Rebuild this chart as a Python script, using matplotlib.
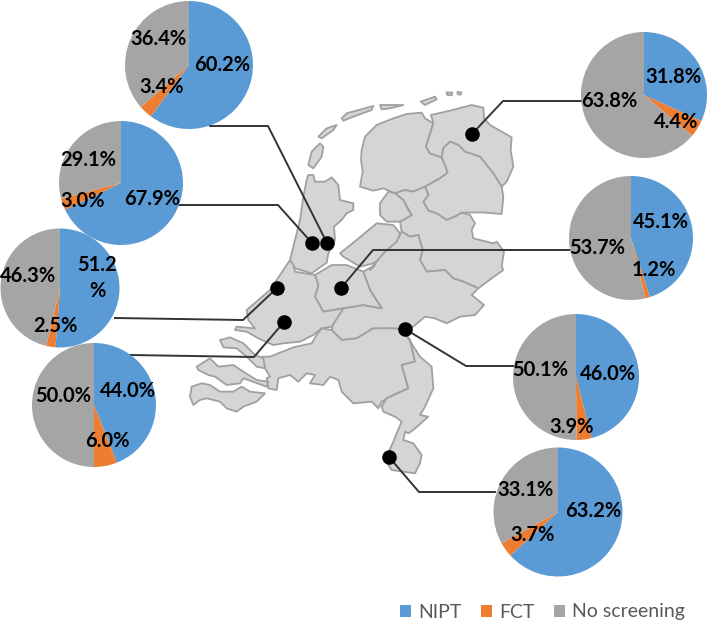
import matplotlib
matplotlib.use("Agg")
import matplotlib.pyplot as plt
from matplotlib.patches import Polygon

W, H = 709, 626

categories = ["NIPT", "FCT", "No screening"]
colors = ["#5B9BD5", "#ED7D31", "#A5A5A5"]

nipt = [60.2, 67.9, 51.2, 44.0, 31.8, 45.1, 46.0, 63.2]
fct = [3.4, 3.0, 2.5, 6.0, 4.4, 1.2, 3.9, 3.7]
no_screening = [36.4, 29.1, 46.3, 50.0, 63.8, 53.7, 50.1, 33.1]

# pie layout in image pixels
centers = [(189, 65), (121, 183), (60, 288), (94, 405),
           (644, 95), (631, 238), (576, 377), (558, 512)]
radii = [64, 62, 59.5, 62, 63, 62, 63, 64.5]

# label positions, one triple per pie
label_pos = [
    [(222, 65), (162, 87), (158, 39)],
    [(152, 199), (83, 201), (88, 160)],
    [(97, 278), (55, 326), (28, 276)],
    [(128, 391), (107, 441), (63, 396)],
    [(673, 77), (676, 122), (609, 101)],
    [(661, 222), (654, 270), (597, 248)],
    [(608, 374), (572, 427), (540, 370)],
    [(593, 511), (533, 535), (525, 490)],
]

# sites and their leader lines
sites = [(327, 243), (312, 243), (277, 288), (284, 322),
         (472, 134), (341, 288), (405, 329), (389, 457)]
leaders = [
    [(210, 126), (268, 126), (327, 243)],
    [(179, 205), (278, 205), (312, 243)],
    [(115, 318), (243, 320), (277, 288)],
    [(130, 355), (254, 357), (284, 322)],
    [(582, 101), (503, 101), (472, 134)],
    [(570, 250), (373, 250), (341, 288)],
    [(515, 366), (466, 366), (405, 329)],
    [(495, 492), (419, 492), (389, 457)],
]


def crop(x0, y0, pts):
    return [(x0 + a / 3, y0 + b / 3) for a, b in pts]


def z1(pts):
    return crop(130, 40, pts)


def z2(pts):
    return crop(130, 260, pts)


def z3(pts):
    return crop(350, 40, pts)


def z5(pts):
    return crop(370, 300, pts)


provinces = [
    # Friesland
    z3([(35, 330), (45, 290), (80, 255), (130, 235), (170, 222), (215, 218), (225, 235), (250, 250),
        (228, 320), (240, 340), (275, 352), (285, 375), (293, 398), (270, 415), (225, 440), (190, 455),
        (165, 450), (135, 460), (100, 445), (70, 452), (30, 440), (38, 395), (33, 360)]),
    # Groningen
    z3([(243, 225), (300, 212), (365, 195), (400, 203), (402, 235), (420, 255), (485, 292), (482, 330),
        (490, 380), (470, 425), (455, 440), (430, 400), (390, 350), (345, 335), (325, 315), (300, 305),
        (280, 325), (275, 352), (240, 340), (228, 320), (250, 250)]),
    # Drenthe
    z3([(275, 352), (280, 325), (300, 305), (325, 315), (345, 335), (390, 350), (430, 400), (455, 440),
        (460, 470), (455, 522), (395, 517), (335, 518), (315, 530), (290, 540), (260, 520), (235, 512),
        (220, 485), (235, 465), (225, 440), (270, 415), (293, 398), (285, 375)]),
    # Overijssel
    z3([(225, 440), (235, 465), (220, 485), (235, 512), (260, 520), (290, 540), (315, 530), (335, 518),
        (360, 525), (375, 550), (365, 570), (370, 595), (430, 610), (440, 605), (462, 635), (455, 680),
        (460, 690), (425, 715), (385, 745), (340, 725), (310, 715), (285, 690), (230, 695), (210, 660),
        (218, 630), (205, 585), (180, 590), (155, 575), (150, 545), (185, 525), (160, 480), (135, 460),
        (165, 450), (190, 455)]),
    # Noordoostpolder
    z3([(90, 490), (115, 455), (135, 460), (160, 480), (175, 510), (185, 525), (150, 545), (110, 545), (90, 525)]),
    # Flevoland
    z1([(630, 640), (680, 600), (740, 550), (790, 555), (810, 580), (800, 610), (770, 640), (730, 670),
        (690, 680), (640, 650)]),
    # Gelderland
    z3([(155, 575), (180, 590), (205, 585), (218, 630), (210, 660), (230, 695), (285, 690), (310, 715),
        (340, 725), (385, 745), (365, 765), (402, 795), (375, 825), (330, 830), (290, 850), (255, 835),
        (225, 830), (190, 860)])
    + z5([(105, 88), (40, 85), (0, 90)])
    + z2([(730, 205), (680, 235), (635, 240), (605, 210), (610, 185), (640, 145), (700, 135), (755, 145),
          (720, 90), (700, 35), (735, 15)])
    + z3([(60, 690), (100, 640), (140, 605)]),
    # Noord-Holland
    z1([(535, 405), (550, 405), (555, 425), (585, 425), (605, 412), (625, 435), (630, 480), (670, 490),
        (670, 510), (650, 520), (635, 540), (612, 560), (615, 600), (595, 640), (590, 668), (545, 700),
        (495, 685), (480, 660), (490, 620), (510, 540), (520, 470), (530, 420)]),
    # Utrecht
    z2([(555, 45), (605, 15), (650, 15), (700, 35), (720, 90), (755, 145), (700, 135), (640, 145),
        (580, 155), (555, 110), (565, 75)]),
    # Zuid-Holland
    z2([(480, 0), (460, 30), (420, 90), (350, 150), (355, 180), (375, 205), (320, 200), (315, 210),
        (350, 215), (385, 235), (430, 255), (460, 250), (510, 245), (550, 225), (575, 205), (605, 200),
        (640, 145), (580, 155), (555, 110), (565, 75), (555, 45), (495, 35), (490, 15)]),
    # Noord-Brabant
    z2([(420, 290), (490, 262), (545, 250), (560, 225), (575, 205), (605, 210), (635, 240), (680, 235),
        (730, 205), (800, 205), (825, 215)])
    + z5([(105, 100), (120, 120), (135, 185), (95, 195), (115, 265), (50, 295), (35, 320)])
    + z2([(800, 400), (755, 425), (745, 445), (725, 425), (670, 430), (635, 395), (625, 360), (600, 350),
          (580, 375), (540, 370), (555, 345), (530, 340), (505, 365), (480, 345), (445, 355), (440, 390),
          (415, 385), (410, 355), (420, 350), (405, 325), (395, 290)]),
    # Limburg
    z5([(105, 100), (150, 170), (185, 200), (190, 265), (165, 320), (150, 345), (175, 350), (130, 390),
        (115, 400), (105, 395), (100, 420), (130, 430), (155, 465), (150, 490), (135, 520), (100, 515),
        (65, 510), (45, 480), (70, 425), (80, 400), (95, 365), (75, 350), (40, 335), (35, 320), (50, 295),
        (115, 265), (95, 195), (135, 185), (120, 120)]),
    # Zeeland
    z2([(185, 380), (215, 370), (240, 375), (270, 395), (310, 395), (335, 380), (360, 395), (405, 400),
        (380, 425), (340, 440), (320, 455), (290, 445), (270, 425), (230, 415), (210, 420), (190, 435), (180, 410)]),
    z2([(200, 320), (240, 295), (265, 320), (310, 315), (340, 335), (380, 360), (415, 365), (410, 380),
        (340, 355), (330, 370), (290, 375), (255, 350), (235, 345), (205, 330)]),
    z2([(270, 240), (300, 232), (340, 250), (375, 285), (400, 295), (405, 325), (380, 320), (350, 290),
        (320, 265), (280, 262)]),
    # Wadden islands
    z1([(535, 375), (545, 335), (570, 310), (580, 320), (575, 350), (550, 385)]),
    z1([(565, 290), (590, 265), (620, 255), (610, 270), (575, 295)]),
    z1([(635, 235), (650, 220), (730, 198), (725, 210), (670, 230), (640, 242)]),
    z1([(750, 195), (820, 195), (780, 205), (755, 208)]),
    z3([(212, 185), (255, 170), (260, 178), (225, 195)]),
    z3([(290, 157), (307, 158), (305, 166), (292, 165)]),
    z3([(322, 156), (334, 157), (332, 164), (323, 163)]),
]


def flip(pts):
    return [(a, H - b) for a, b in pts]


fig = plt.figure(figsize=(W / 100, H / 100), dpi=100)
ax = fig.add_axes([0, 0, 1, 1])

for shape in provinces:
    ax.add_patch(Polygon(flip(shape), closed=True, facecolor="#D5D5D5", edgecolor="#A0A0A0",
                         linewidth=1.3, joinstyle="round", zorder=1))

for line in leaders:
    pts = flip(line)
    ax.plot([p[0] for p in pts], [p[1] for p in pts], color="#333333", linewidth=1.4, zorder=2)

ax.scatter([s[0] for s in sites], [H - s[1] for s in sites], s=110, color="black", linewidths=0, zorder=3)

wedges = None
for i in range(len(nipt)):
    values = [nipt[i], fct[i], no_screening[i]]
    cx, cy = centers[i]
    wedges, _ = ax.pie(values, colors=colors, center=(cx, H - cy), radius=radii[i],
                       startangle=90, counterclock=False, frame=False,
                       wedgeprops={"zorder": 4})
    for v, (tx, ty) in zip(values, label_pos[i]):
        label = f"{v:.1f}%"
        if label == "51.2%":
            label = "51.2\n%"  # wrapped in the original
        ax.text(tx, H - ty, label, ha="center", va="center", fontsize=14.5, fontweight="bold",
                family="Lato", color="black", linespacing=1.35, zorder=5)

ax.set_xlim(0, W)
ax.set_ylim(0, H)
ax.set_aspect("auto")
ax.axis("off")

ax.legend(wedges, categories, ncol=3, loc="center", bbox_to_anchor=(542.5 / W, 1 - 612 / H),
          frameon=False, prop={"family": "Lato", "size": 14}, labelcolor="#595959",
          handlelength=0.57, handleheight=0.57, handletextpad=0.35, columnspacing=1.0)

fig.savefig("out.png", dpi=100)
